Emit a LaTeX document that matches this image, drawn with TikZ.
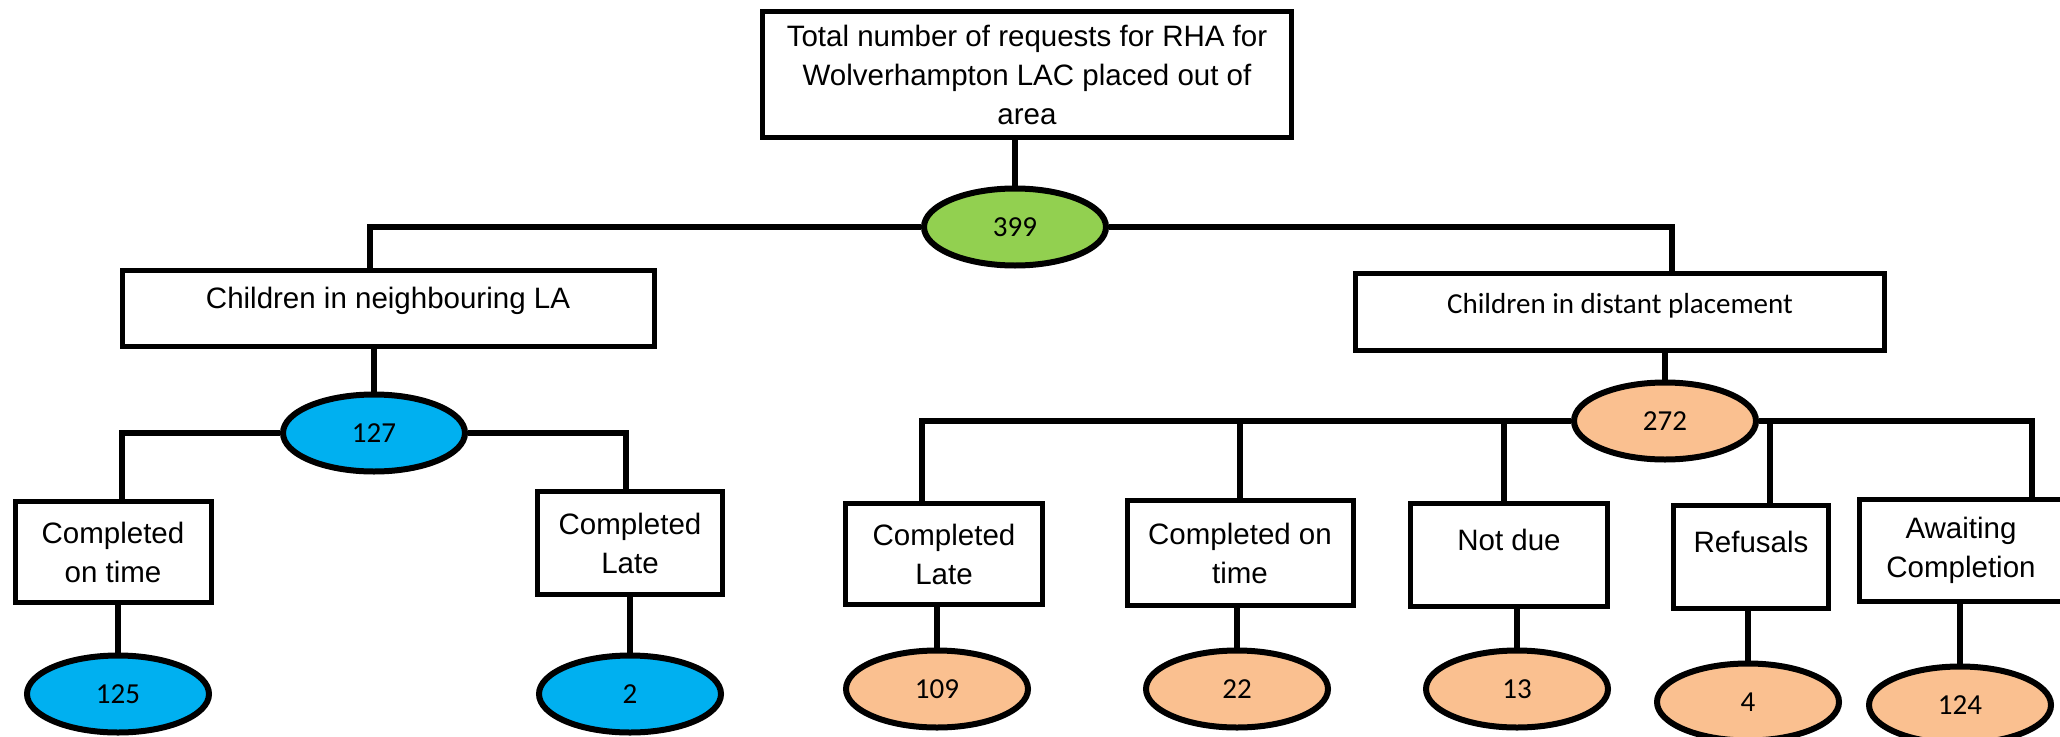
\documentclass[tikz,border=0pt]{standalone}
\usepackage{fontspec}
\setmainfont{Liberation Sans}
\newfontfamily\calibrifont{Carlito}
\usepackage{tikz}
\usetikzlibrary{shapes.geometric}

\definecolor{rootgreen}{HTML}{92D050}
\definecolor{nbrblue}{HTML}{00B0F0}
\definecolor{distorange}{HTML}{FAC090}

\tikzset{
  box/.style={rectangle, draw=black, line width=5pt, fill=white, inner sep=0pt, align=center, font=\fontsize{29.5}{39}\selectfont},
  count/.style={ellipse, draw=black, line width=6pt, inner sep=0pt, minimum width=182pt, minimum height=77pt, font=\calibrifont\fontsize{29}{35}\selectfont},
  link/.style={line width=6pt},
  lift/.style={text height=21pt, text depth=#1}
}

\begin{document}
\begin{tikzpicture}[x=1pt, y=-1pt]
\useasboundingbox (0,0) rectangle (2060,736);

% top of the tree
\node[box] (top)    at (1027, 74.5) [minimum width=529pt, minimum height=126pt] {Total number of requests for RHA for\\Wolverhampton LAC placed out of\\area};
\node[count, fill=rootgreen] (e399) at (1015, 227) {399};

% neighbouring LA
\node[box, lift=20pt] (nbr) at (388, 308) [minimum width=532pt, minimum height=76pt] {Children in neighbouring LA};
\node[count, fill=nbrblue]  (e127)  at (374, 433) {127};
\node[box] (lot)    at (113, 552)  [minimum width=196pt, minimum height=101pt] {Completed\\on time};
\node[box] (llate)  at (630, 543)  [minimum width=185pt, minimum height=103pt] {Completed\\Late};
\node[count, fill=nbrblue]  (e125)  at (118, 694) {125};
\node[count, fill=nbrblue]  (e2)    at (630, 694) {2};

% distant placement
\node[box, lift=18pt, font=\calibrifont\fontsize{29}{35}\selectfont] (dist) at (1620, 312) [minimum width=529pt, minimum height=77pt] {Children in distant placement};
\node[count, fill=distorange] (e272) at (1665, 421) {272};
\node[box] (rlate)  at (944, 554)  [minimum width=197pt, minimum height=101pt] {Completed\\Late};
\node[box] (rot)    at (1240, 553) [minimum width=226pt, minimum height=105pt] {Completed on\\time};
\node[box, lift=30pt] (notdue) at (1509, 555) [minimum width=197pt, minimum height=103pt] {Not due};
\node[box, lift=30pt] (refus)  at (1751, 557) [minimum width=155pt, minimum height=103pt] {Refusals};
\node[box] (await)  at (1961, 550) [minimum width=203pt, minimum height=102pt] {Awaiting\\Completion};
\node[count, fill=distorange] (e109) at (937, 689)  {109};
\node[count, fill=distorange] (e22)  at (1237, 689) {22};
\node[count, fill=distorange] (e13)  at (1517, 689) {13};
\node[count, fill=distorange] (e4)   at (1748, 702) {4};
\node[count, fill=distorange] (e124) at (1960, 705) {124};

% connectors
\draw[link] (e399.north) -- (e399.north |- top.south);
\draw[link] (e399.west) -| ([xshift=-18pt]nbr.north);
\draw[link] (e399.east) -| ([xshift=52pt]dist.north);

\draw[link] (e127.north) -- (e127.north |- nbr.south);
\draw[link] (e127.west) -| ([xshift=9pt]lot.north);
\draw[link] (e127.east) -| ([xshift=-4pt]llate.north);
\draw[link] (e125.north) -- (e125.north |- lot.south);
\draw[link] (e2.north) -- (e2.north |- llate.south);

\draw[link] (e272.north) -- (e272.north |- dist.south);
\draw[link] (e272.west) -| ([xshift=-22pt]rlate.north);
\draw[link] (rot.north) -- (rot.north |- e272.west);
\draw[link] ([xshift=-5pt]notdue.north) -- ([xshift=-5pt]notdue.north |- e272.west);
\draw[link] (e272.east) -| ([xshift=71pt]await.north);
\draw[link] ([xshift=19pt]refus.north) -- ([xshift=19pt]refus.north |- e272.east);
\draw[link] (e109.north) -- (e109.north |- rlate.south);
\draw[link] (e22.north) -- (e22.north |- rot.south);
\draw[link] (e13.north) -- (e13.north |- notdue.south);
\draw[link] (e4.north) -- (e4.north |- refus.south);
\draw[link] (e124.north) -- (e124.north |- await.south);
\end{tikzpicture}
\end{document}
